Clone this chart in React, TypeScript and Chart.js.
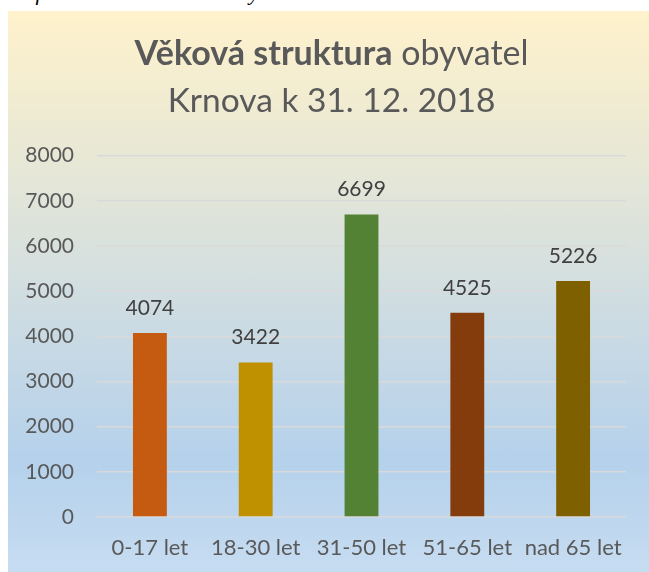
import React, { useEffect, useRef } from "react";
import { Chart, registerables } from "chart.js";

Chart.register(...registerables);

const categories = ["0-17 let", "18-30 let", "31-50 let", "51-65 let", "nad 65 let"];
const values = [4074, 3422, 6699, 4525, 5226];
const barColors = ["#C55A11", "#BF9000", "#548235", "#843C0C", "#7F6000"];
const yMax = 8000;
const yStep = 1000;
const titleBold = "Věková struktura";
const titleRest = " obyvatel";
const titleLine2 = "Krnova k 31. 12. 2018";
const captionText = "Graf 4: Věková struktura obyvatel";

const W = 641;
const H = 561;
const FONT = "Lato, 'Noto Sans', sans-serif";

const titlePlugin = {
  id: "twoLineTitle",
  beforeDraw(chart: any) {
    const ctx = chart.ctx;
    ctx.save();
    ctx.fillStyle = "#595959";
    ctx.textBaseline = "alphabetic";
    ctx.textAlign = "left";
    const cx = W / 2 + 3;
    ctx.font = `bold 34px ${FONT}`;
    const wb = ctx.measureText(titleBold).width;
    ctx.font = `normal 34px ${FONT}`;
    const wr = ctx.measureText(titleRest).width;
    const x = cx - (wb + wr) / 2;
    ctx.font = `bold 34px ${FONT}`;
    ctx.fillText(titleBold, x, 54);
    ctx.font = `normal 34px ${FONT}`;
    ctx.fillText(titleRest, x + wb, 54);
    ctx.font = `normal 33.5px ${FONT}`;
    ctx.textAlign = "center";
    ctx.fillText(titleLine2, cx, 101);
    ctx.restore();
  },
};

const valueLabelPlugin = {
  id: "valueLabels",
  afterDatasetsDraw(chart: any) {
    const ctx = chart.ctx;
    const meta = chart.getDatasetMeta(0);
    ctx.save();
    ctx.fillStyle = "#404040";
    ctx.font = `normal 21px ${FONT}`;
    ctx.textAlign = "center";
    ctx.textBaseline = "alphabetic";
    meta.data.forEach((bar: any, i: number) => {
      ctx.fillText(String(values[i]), bar.x, bar.y - 18);
    });
    ctx.restore();
  },
};

export default function App() {
  const ref = useRef<HTMLCanvasElement | null>(null);
  useEffect(() => {
    if (!ref.current) return;
    const chart = new Chart(ref.current, {
      type: "bar",
      data: {
        labels: categories,
        datasets: [
          {
            data: values,
            backgroundColor: barColors,
            borderWidth: 0,
            barPercentage: 0.32,
            categoryPercentage: 1,
          },
        ],
      },
      options: {
        responsive: false,
        animation: false,
        layout: { padding: { top: 144.7, right: 23, bottom: 0, left: 0 } },
        plugins: {
          legend: { display: false },
          title: { display: false },
          tooltip: { enabled: false },
        },
        scales: {
          x: {
            grid: { display: false, drawTicks: false },
            border: { display: false },
            ticks: {
              color: "#595959",
              font: { family: FONT, size: 22 },
              padding: 18,
              maxRotation: 0,
              autoSkip: false,
            },
            afterFit(scale: any) {
              scale.height = 55;
            },
          },
          y: {
            min: 0,
            max: yMax,
            grid: { color: "#D9D9D9", lineWidth: 1.5, drawTicks: false },
            border: { display: false },
            ticks: {
              stepSize: yStep,
              color: "#595959",
              font: { family: FONT, size: 21 },
              padding: 23,
              callback: (v: any) => String(v),
            },
            afterFit(scale: any) {
              scale.width = 89;
            },
          },
        },
      },
      plugins: [titlePlugin, valueLabelPlugin],
    });
    return () => chart.destroy();
  }, []);

  return (
    <div>
      <div
        style={{
          position: "absolute",
          left: 0,
          top: -20,
          fontFamily: "'Liberation Serif', serif",
          fontStyle: "italic",
          fontSize: 22,
          color: "#000",
          whiteSpace: "nowrap",
        }}
      >
        {captionText}
      </div>
      <div
        style={{
          position: "absolute",
          left: 8,
          top: 11,
          width: W,
          height: H,
          background:
            "linear-gradient(to bottom, #FFF2CC 0%, #EFEBD2 18%, #DDE3DB 38%, #C9DAE4 58%, #B5D1EB 80%, #C6DCF1 100%)",
        }}
      >
        <canvas ref={ref} width={W} height={H} style={{ display: "block" }} />
      </div>
    </div>
  );
}
